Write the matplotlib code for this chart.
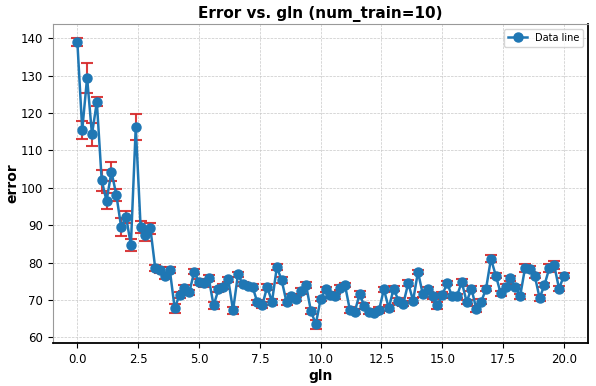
import numpy as np
import matplotlib
matplotlib.use("Agg")
import matplotlib.pyplot as plt

gln = [round(0.2 * i, 1) for i in range(101)]

error = [139.0, 115.5, 129.5, 114.3, 123.0, 102.0, 96.5, 104.3, 98.2, 89.5,
         92.3, 84.7, 116.3, 89.5, 87.3, 89.2, 78.5, 78.0, 76.5, 78.0,
         67.8, 71.3, 73.3, 72.0, 77.5, 74.8, 74.5, 75.8, 68.5, 72.8,
         73.5, 75.5, 67.2, 76.8, 74.2, 73.7, 73.5, 69.3, 68.5, 73.5,
         69.5, 78.8, 75.2, 69.3, 71.0, 70.3, 72.5, 74.0, 67.0, 63.5,
         70.2, 72.8, 71.3, 71.0, 73.3, 74.0, 67.3, 66.8, 71.5, 68.3,
         66.8, 66.6, 67.3, 72.8, 67.8, 73.0, 69.8, 69.0, 74.5, 69.8,
         77.5, 71.5, 72.8, 71.0, 68.5, 71.3, 74.5, 71.0, 71.0, 74.8,
         69.5, 73.0, 67.5, 69.5, 73.0, 81.0, 76.5, 71.8, 73.5, 75.8,
         73.5, 71.0, 78.5, 78.3, 76.5, 70.5, 74.0, 78.5, 79.3, 73.0,
         76.5]

err_bar = [1.0, 2.5, 4.0, 3.0, 1.2, 2.8, 2.2, 2.6, 1.6, 2.5,
           1.6, 1.6, 3.5, 1.5, 1.6, 1.5, 0.8, 0.8, 0.8, 0.7,
           1.2, 0.7, 0.8, 0.6, 0.7, 0.8, 1.0, 0.8, 1.0, 0.6,
           0.7, 0.6, 0.9, 0.6, 0.6, 0.6, 0.7, 0.8, 0.8, 0.8,
           0.8, 0.8, 0.8, 0.7, 0.7, 0.6, 0.8, 0.9, 0.9, 1.2,
           0.6, 0.6, 0.7, 0.7, 0.7, 0.6, 0.9, 0.7, 0.8, 0.8,
           0.7, 0.6, 0.8, 0.6, 0.8, 0.6, 0.7, 0.6, 0.8, 0.6,
           0.6, 0.6, 0.7, 0.7, 1.0, 0.7, 0.6, 0.6, 0.6, 0.9,
           0.6, 0.6, 0.8, 0.7, 0.6, 0.9, 0.6, 0.7, 0.7, 0.7,
           0.6, 0.7, 1.1, 0.8, 0.7, 0.7, 0.6, 1.0, 1.0, 0.7,
           0.6]

fig, ax = plt.subplots(figsize=(5.96, 3.86), dpi=100)
fig.subplots_adjust(left=0.089, right=0.987, top=0.938, bottom=0.111)

ax.errorbar(gln, error, yerr=err_bar, fmt='none', ecolor='tab:red',
            elinewidth=1.5, capsize=4, capthick=1.5, alpha=0.9)
ax.plot(gln, error, '-o', color='tab:blue', markersize=6.5, linewidth=1.8,
        label='Data line')

ax.set_title('Error vs. gln (num_train=10)', fontsize=11, fontweight='bold', pad=4)
ax.set_xlabel('gln', fontsize=10, fontweight='bold', labelpad=2)
ax.set_ylabel('error', fontsize=10, fontweight='bold')
ax.yaxis.set_label_coords(-0.062, 0.5)
ax.tick_params(labelsize=8.5)
ax.set_yticks(np.arange(60, 141, 10))
ax.grid(True, linestyle='--', linewidth=0.5, color='#c8c8c8')
ax.legend(loc='upper right', fontsize=7)

for side in ['left', 'top']:
    ax.spines[side].set_color('#999999')
for side in ['bottom', 'right']:
    ax.spines[side].set_color('black')
    ax.spines[side].set_linewidth(1.3)

plt.savefig('out.png')
